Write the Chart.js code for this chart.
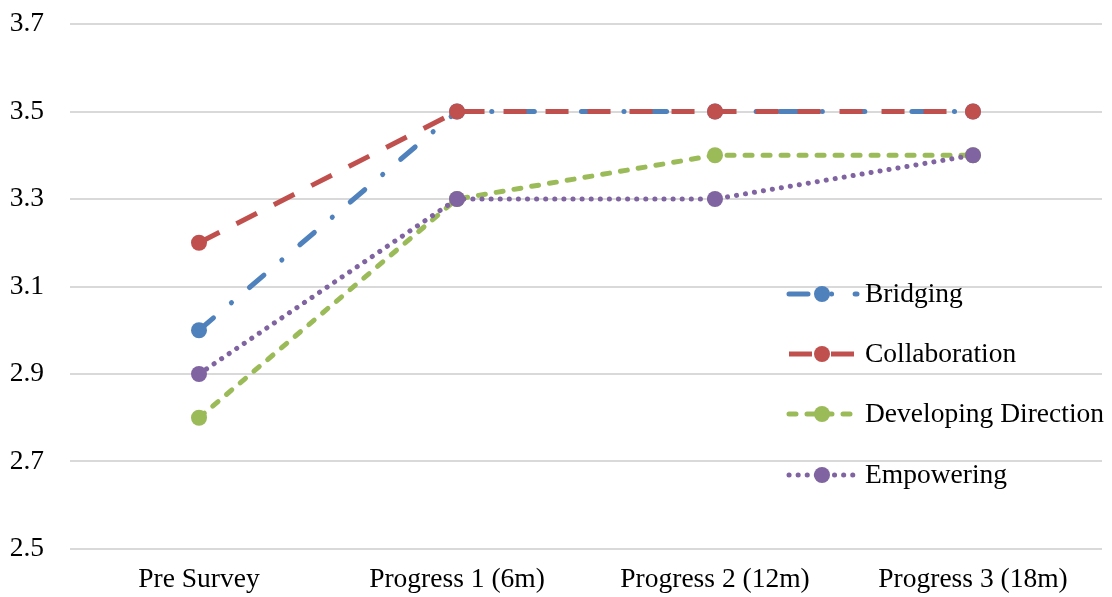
<!DOCTYPE html>
<html>
<head>
<meta charset="utf-8">
<script src="https://cdn.jsdelivr.net/npm/chart.js@4/dist/chart.umd.min.js"></script>
<style>
  html, body { margin: 0; padding: 0; background: #fff; }
  #wrap { width: 1112px; height: 597px; position: relative; }
</style>
</head>
<body>
<div id="wrap"><canvas id="c" width="1112" height="597"></canvas></div>
<script>
// Survey waves and average scores per leadership dimension
const categories = ['Pre Survey', 'Progress 1 (6m)', 'Progress 2 (12m)', 'Progress 3 (18m)'];
const bridging = [3.0, 3.5, 3.5, 3.5];
const collaboration = [3.2, 3.5, 3.5, 3.5];
const developingDirection = [2.8, 3.3, 3.4, 3.4];
const empowering = [2.9, 3.3, 3.3, 3.4];
const yTicks = [2.5, 2.7, 2.9, 3.1, 3.3, 3.5, 3.7];

const FONT = '"Liberation Serif", "Times New Roman", serif';
const FONT_SIZE = 27.5;

function series(label, data, color, dash, cap, order) {
  return {
    label, data, order,
    borderColor: color,
    backgroundColor: color,
    pointBackgroundColor: color,
    pointBorderColor: color,
    borderWidth: 5,
    borderDash: dash,
    borderCapStyle: cap,
    pointRadius: 8,
    pointBorderWidth: 0,
    pointHoverRadius: 8,
    tension: 0,
    fill: false
  };
}

// later series are painted over earlier ones
const datasets = [
  series('Bridging', bridging, '#4F81BD', [19, 23.5, 0.1, 23.5], 'round', 4),
  series('Collaboration', collaboration, '#C0504D', [23, 19], 'butt', 3),
  series('Developing Direction', developingDirection, '#9BBB59', [7, 11], 'round', 2),
  series('Empowering', empowering, '#8064A2', [0.1, 9], 'round', 1)
];

// Vertical legend placed inside the plot, to the right
const insideLegend = {
  id: 'insideLegend',
  afterDraw(chart) {
    const ctx = chart.ctx;
    const x0 = 789, x1 = 857, mx = 822, tx = 865;
    const ys = [294, 354, 414, 475];
    chart.data.datasets.forEach((ds, i) => {
      const y = ys[i];
      ctx.save();
      ctx.strokeStyle = ds.borderColor;
      ctx.lineWidth = ds.borderWidth;
      ctx.lineCap = ds.borderCapStyle;
      ctx.setLineDash(ds.borderDash);
      ctx.beginPath();
      ctx.moveTo(x0, y);
      ctx.lineTo(x1, y);
      ctx.stroke();
      ctx.setLineDash([]);
      ctx.fillStyle = ds.borderColor;
      ctx.beginPath();
      ctx.arc(mx, y, ds.pointRadius, 0, Math.PI * 2);
      ctx.fill();
      ctx.fillStyle = '#000';
      ctx.font = FONT_SIZE + 'px ' + FONT;
      ctx.textBaseline = 'middle';
      ctx.textAlign = 'left';
      ctx.fillText(ds.label, tx, y + 1);
      ctx.restore();
    });
  }
};

new Chart(document.getElementById('c'), {
  type: 'line',
  data: { labels: categories, datasets },
  plugins: [insideLegend],
  options: {
    responsive: false,
    animation: false,
    events: [],
    layout: { padding: { top: 24, right: 10, left: 0, bottom: 0 } },
    plugins: { legend: { display: false }, tooltip: { enabled: false } },
    scales: {
      x: {
        offset: true,
        grid: { display: false, drawTicks: false },
        border: { display: false },
        ticks: { color: '#000', font: { family: FONT, size: FONT_SIZE }, padding: 14, maxRotation: 0 },
        afterFit(s) { s.height = 48; s.paddingLeft = 0; s.paddingRight = 0; }
      },
      y: {
        min: 2.5, max: 3.7,
        afterBuildTicks(s) { s.ticks = yTicks.map(v => ({ value: v })); },
        grid: { color: '#D9D9D9', lineWidth: 2, drawTicks: false },
        border: { display: false },
        ticks: {
          color: '#000', font: { family: FONT, size: FONT_SIZE }, padding: 26,
          callback: v => Number(v).toFixed(1)
        },
        afterFit(s) { s.width = 70; s.paddingTop = 0; s.paddingBottom = 0; }
      }
    }
  }
});
</script>
</body>
</html>
